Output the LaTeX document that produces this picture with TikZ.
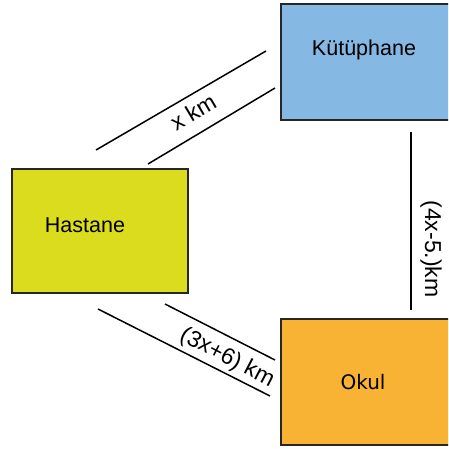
\documentclass[tikz,border=0pt]{standalone}
\usepackage{fontspec}
\setmainfont{Liberation Sans}
\newfontfamily\okulfont{DejaVu Sans}
\definecolor{libblue}{RGB}{133,184,227}
\definecolor{hosyellow}{RGB}{220,220,30}
\definecolor{schorange}{RGB}{248,178,52}
\begin{document}
\begin{tikzpicture}[x=1pt,y=-1pt,
  place/.style={draw=black!85,line width=1.6pt},
  road/.style={draw=black,line width=1.5pt},
  lbl/.style={font=\fontsize{21.5}{24}\selectfont,inner sep=0pt},
  elbl/.style={font=\fontsize{23}{26}\selectfont,inner sep=0pt}]
\useasboundingbox (0,0) rectangle (448,449);
\clip (0,0) rectangle (448,449);
\path[place,fill=libblue] (281,4) rectangle (470,120);
\path[place,fill=hosyellow] (12,169) rectangle (188,293);
\path[place,fill=schorange] (281,319) rectangle (470,445);
\node[lbl] (kut) at (364,50) {Kütüphane};
\node[lbl] (has) at (85,225) {Hastane};
\node[lbl,font=\okulfont\fontsize{20}{24}\selectfont] (okul) at (363,382) {Okul};
% x km
\coordinate (a1) at (96,150); \coordinate (a2) at (266,51);
\coordinate (b1) at (148,164); \coordinate (b2) at (275,88);
\draw[road] (a1) -- (a2);
\draw[road] (b1) -- (b2);
\node[elbl,rotate=30.5] (xkm) at (193,112) {x km};
% (4x-5.)km
\coordinate (c1) at (411,132); \coordinate (c2) at (411,310);
\draw[road] (c1) -- (c2);
\node[elbl,rotate=-90] (fkm) at (431,249) {(4x-5.)km};
% (3x+6) km
\coordinate (d1) at (98,309); \coordinate (d2) at (270,396);
\coordinate (e1) at (165,304); \coordinate (e2) at (275,360);
\draw[road] (d1) -- (d2);
\draw[road] (e1) -- (e2);
\node[elbl,rotate=-27.5] (tkm) at (227,358) {(3x+6) km};
\end{tikzpicture}
\end{document}
